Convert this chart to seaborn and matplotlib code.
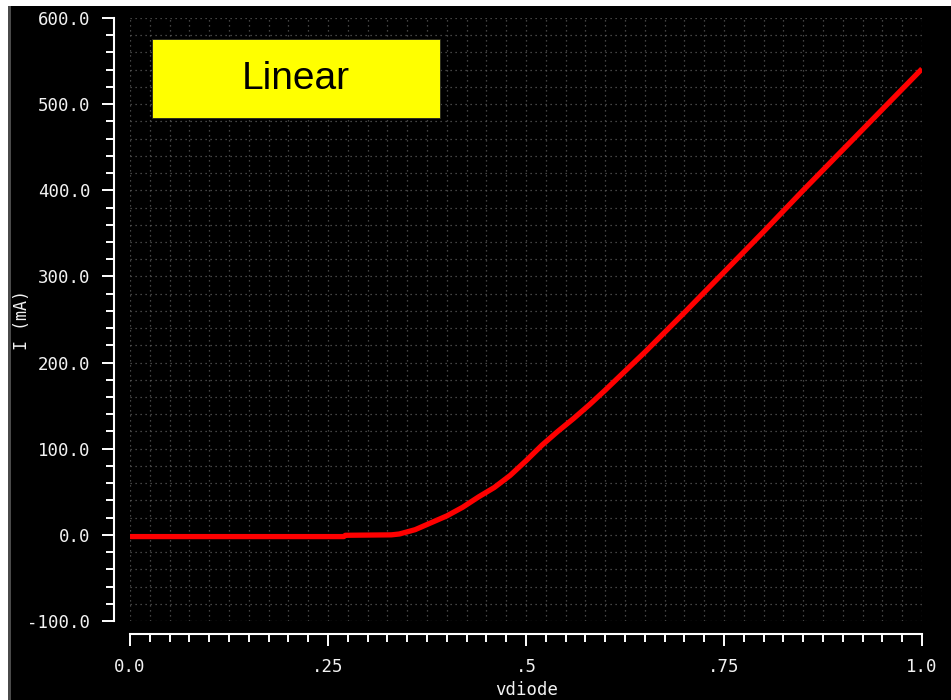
import numpy as np
import pandas as pd
import matplotlib
matplotlib.use("Agg")
import matplotlib.pyplot as plt
from matplotlib.patches import Rectangle
from matplotlib.ticker import MultipleLocator, FixedLocator, FixedFormatter
import seaborn as sns

# Diode I-V sweep (voltage in V, current in mA)
vdiode = [0.0, 0.27, 0.272, 0.33, 0.34, 0.36, 0.38, 0.40, 0.42, 0.44, 0.46,
          0.48, 0.50, 0.52, 0.54, 0.56, 0.58, 0.60, 0.65, 0.70, 0.75, 0.80,
          0.85, 0.90, 0.95, 1.0]
current_ma = [-2, -2, -0.5, 0, 1, 6, 14, 22, 32, 44, 55,
              69, 86, 104, 120, 135, 151, 168, 212, 258, 305, 352,
              400, 447, 494, 541]

x_ticks = [0.0, 0.25, 0.5, 0.75, 1.0]
x_tick_labels = ["0.0", ".25", ".5", ".75", "1.0"]
y_ticks = [-100, 0, 100, 200, 300, 400, 500, 600]
y_tick_labels = ["-100.0", "0.0", "100.0", "200.0", "300.0", "400.0", "500.0", "600.0"]
title_text = "Linear"
x_label = "vdiode"
y_label = "I (mA)"

df = pd.DataFrame({x_label: vdiode, y_label: current_ma})

sns.set_style("dark")
plt.rcParams["font.family"] = ["DejaVu Sans Mono", "DejaVu Sans"]

W, H = 951, 700
fig = plt.figure(figsize=(W / 100, H / 100), dpi=100, facecolor="black")

# window frame: white band on top and left, grey bevel
fig.patches.append(Rectangle((0, 1 - 6 / H), 1, 6 / H, transform=fig.transFigure,
                             facecolor="white", edgecolor="none", zorder=0))
fig.patches.append(Rectangle((0, 0), 8 / W, 1, transform=fig.transFigure,
                             facecolor="white", edgecolor="none", zorder=0))
fig.patches.append(Rectangle((8 / W, 0), 3 / W, 1 - 6 / H, transform=fig.transFigure,
                             facecolor="#4a4a4a", edgecolor="none", zorder=0))

ax = fig.add_axes([130 / W, 79 / H, 792 / W, 603 / H])
ax.set_facecolor("black")

sns.lineplot(data=df, x=x_label, y=y_label, ax=ax, color="#ff0000",
             linewidth=3.8, solid_capstyle="butt", zorder=3)

ax.set_xlim(0, 1)
ax.set_ylim(-100, 600)

ax.xaxis.set_major_locator(FixedLocator(x_ticks))
ax.xaxis.set_major_formatter(FixedFormatter(x_tick_labels))
ax.xaxis.set_minor_locator(MultipleLocator(0.025))
ax.yaxis.set_major_locator(FixedLocator(y_ticks))
ax.yaxis.set_major_formatter(FixedFormatter(y_tick_labels))
ax.yaxis.set_minor_locator(MultipleLocator(20))

ax.grid(which="both", color="#5a5a5a", linestyle=(0, (1, 3)), linewidth=0.9)
ax.set_axisbelow(True)

for side in ("top", "right"):
    ax.spines[side].set_visible(False)
ax.spines["left"].set_position(("outward", 11.5))
ax.spines["bottom"].set_position(("outward", 9.4))
for side in ("left", "bottom"):
    ax.spines[side].set_color("white")
    ax.spines[side].set_linewidth(1.5)

ax.tick_params(which="major", direction="out", length=8.6, width=1.4,
               color="white", labelcolor="#f2f2f2", labelsize=12.5)
ax.tick_params(which="minor", direction="out", length=5.8, width=1.4,
               color="white")
ax.tick_params(axis="y", which="major", pad=8.5)
ax.tick_params(axis="x", which="major", pad=9)
ax.tick_params(which="both", left=True, bottom=True)

# axis titles placed in figure pixels
ax.set_xlabel("")
ax.set_ylabel("")
fig.text(527 / W, 1 - 681 / H, x_label, ha="center", va="top",
         color="#f2f2f2", fontsize=12.5)
fig.text(22 / W, 1 - 320 / H, y_label, ha="center", va="center",
         rotation=90, color="#f2f2f2", fontsize=12)

# annotation box in upper-left
ax.add_patch(Rectangle((0.0278, 0.834), 0.363, 0.131, transform=ax.transAxes,
                       facecolor="#ffff00", edgecolor="#222222", linewidth=0.6,
                       zorder=4))
ax.text(0.2096, 0.8995, title_text, transform=ax.transAxes, ha="center",
        va="center", fontsize=28, color="black", family="Liberation Sans",
        zorder=5)

fig.savefig("out.png", dpi=100, facecolor="black")
